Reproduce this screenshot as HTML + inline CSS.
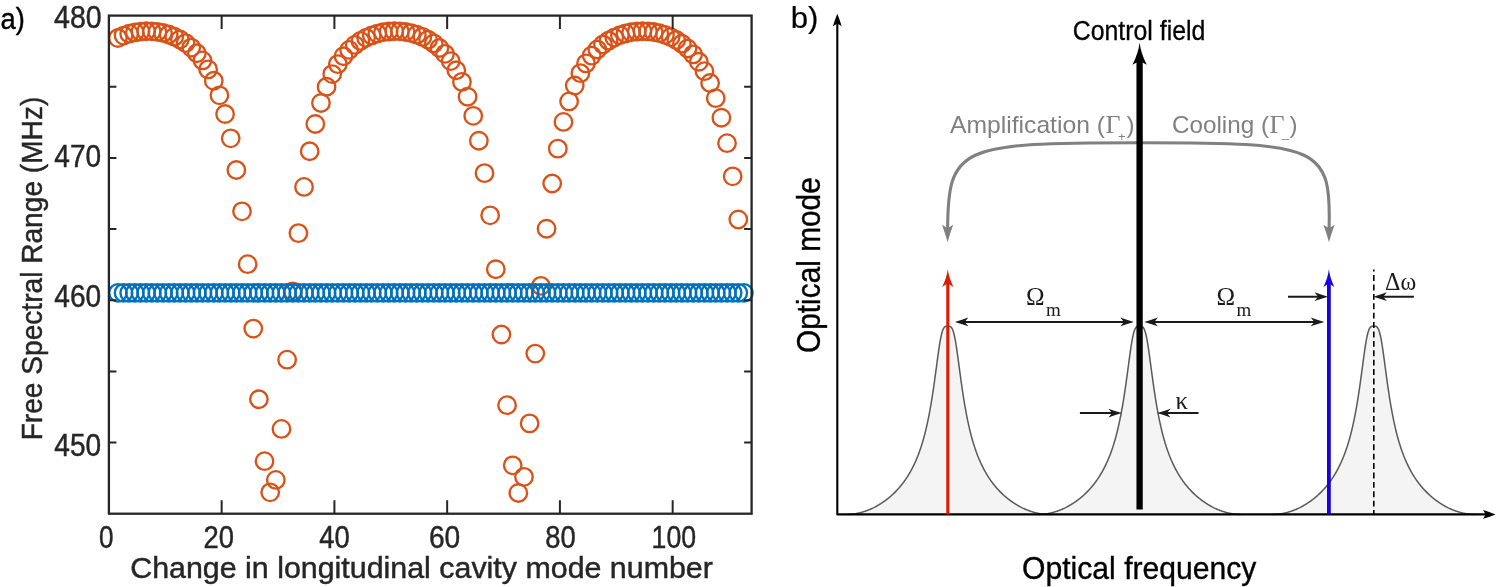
<!DOCTYPE html>
<html><head><meta charset="utf-8"><title>figure</title>
<style>html,body{margin:0;padding:0;background:#fff;}svg{display:block;will-change:transform;}text{font-family:"Liberation Sans",sans-serif;}.s{font-family:"Liberation Serif",serif;}</style>
</head><body>
<svg width="1496" height="587" viewBox="0 0 1496 587">
<rect x="0" y="0" width="1496" height="587" fill="#ffffff"/>
<g fill="none" stroke="#D95319" stroke-width="2.35">
<circle cx="117.90" cy="38.04" r="8.75"/>
<circle cx="123.54" cy="35.56" r="8.75"/>
<circle cx="129.18" cy="33.69" r="8.75"/>
<circle cx="134.82" cy="32.38" r="8.75"/>
<circle cx="140.46" cy="31.56" r="8.75"/>
<circle cx="146.10" cy="31.21" r="8.75"/>
<circle cx="151.74" cy="31.32" r="8.75"/>
<circle cx="157.38" cy="31.89" r="8.75"/>
<circle cx="163.02" cy="32.94" r="8.75"/>
<circle cx="168.66" cy="34.50" r="8.75"/>
<circle cx="174.30" cy="36.65" r="8.75"/>
<circle cx="179.94" cy="39.46" r="8.75"/>
<circle cx="185.58" cy="43.05" r="8.75"/>
<circle cx="191.22" cy="47.58" r="8.75"/>
<circle cx="196.86" cy="53.26" r="8.75"/>
<circle cx="202.50" cy="60.40" r="8.75"/>
<circle cx="208.14" cy="69.39" r="8.75"/>
<circle cx="213.78" cy="80.77" r="8.75"/>
<circle cx="219.42" cy="95.31" r="8.75"/>
<circle cx="225.06" cy="114.02" r="8.75"/>
<circle cx="230.70" cy="138.31" r="8.75"/>
<circle cx="236.34" cy="170.01" r="8.75"/>
<circle cx="241.98" cy="211.30" r="8.75"/>
<circle cx="247.62" cy="264.15" r="8.75"/>
<circle cx="253.26" cy="328.60" r="8.75"/>
<circle cx="258.90" cy="399.26" r="8.75"/>
<circle cx="264.54" cy="461.15" r="8.75"/>
<circle cx="270.18" cy="492.31" r="8.75"/>
<circle cx="275.82" cy="479.90" r="8.75"/>
<circle cx="281.46" cy="428.91" r="8.75"/>
<circle cx="287.10" cy="359.66" r="8.75"/>
<circle cx="292.74" cy="291.30" r="8.75"/>
<circle cx="298.38" cy="233.12" r="8.75"/>
<circle cx="304.02" cy="186.92" r="8.75"/>
<circle cx="309.66" cy="151.26" r="8.75"/>
<circle cx="315.30" cy="123.95" r="8.75"/>
<circle cx="320.94" cy="102.97" r="8.75"/>
<circle cx="326.58" cy="86.74" r="8.75"/>
<circle cx="332.22" cy="74.08" r="8.75"/>
<circle cx="337.86" cy="64.11" r="8.75"/>
<circle cx="343.50" cy="56.21" r="8.75"/>
<circle cx="349.14" cy="49.93" r="8.75"/>
<circle cx="354.78" cy="44.92" r="8.75"/>
<circle cx="360.42" cy="40.94" r="8.75"/>
<circle cx="366.06" cy="37.80" r="8.75"/>
<circle cx="371.70" cy="35.37" r="8.75"/>
<circle cx="377.34" cy="33.56" r="8.75"/>
<circle cx="382.98" cy="32.29" r="8.75"/>
<circle cx="388.62" cy="31.51" r="8.75"/>
<circle cx="394.26" cy="31.20" r="8.75"/>
<circle cx="399.90" cy="31.35" r="8.75"/>
<circle cx="405.54" cy="31.96" r="8.75"/>
<circle cx="411.18" cy="33.05" r="8.75"/>
<circle cx="416.82" cy="34.66" r="8.75"/>
<circle cx="422.46" cy="36.86" r="8.75"/>
<circle cx="428.10" cy="39.73" r="8.75"/>
<circle cx="433.74" cy="43.39" r="8.75"/>
<circle cx="439.38" cy="48.01" r="8.75"/>
<circle cx="445.02" cy="53.81" r="8.75"/>
<circle cx="450.66" cy="61.09" r="8.75"/>
<circle cx="456.30" cy="70.26" r="8.75"/>
<circle cx="461.94" cy="81.88" r="8.75"/>
<circle cx="467.58" cy="96.72" r="8.75"/>
<circle cx="473.22" cy="115.85" r="8.75"/>
<circle cx="478.86" cy="140.70" r="8.75"/>
<circle cx="484.50" cy="173.14" r="8.75"/>
<circle cx="490.14" cy="215.35" r="8.75"/>
<circle cx="495.78" cy="269.23" r="8.75"/>
<circle cx="501.42" cy="334.54" r="8.75"/>
<circle cx="507.06" cy="405.19" r="8.75"/>
<circle cx="512.70" cy="465.31" r="8.75"/>
<circle cx="518.34" cy="492.98" r="8.75"/>
<circle cx="523.98" cy="476.83" r="8.75"/>
<circle cx="529.62" cy="423.38" r="8.75"/>
<circle cx="535.26" cy="353.58" r="8.75"/>
<circle cx="540.90" cy="285.87" r="8.75"/>
<circle cx="546.54" cy="228.71" r="8.75"/>
<circle cx="552.18" cy="183.49" r="8.75"/>
<circle cx="557.82" cy="148.63" r="8.75"/>
<circle cx="563.46" cy="121.94" r="8.75"/>
<circle cx="569.10" cy="101.42" r="8.75"/>
<circle cx="574.74" cy="85.54" r="8.75"/>
<circle cx="580.38" cy="73.13" r="8.75"/>
<circle cx="586.02" cy="63.36" r="8.75"/>
<circle cx="591.66" cy="55.62" r="8.75"/>
<circle cx="597.30" cy="49.45" r="8.75"/>
<circle cx="602.94" cy="44.54" r="8.75"/>
<circle cx="608.58" cy="40.64" r="8.75"/>
<circle cx="614.22" cy="37.57" r="8.75"/>
<circle cx="619.86" cy="35.20" r="8.75"/>
<circle cx="625.50" cy="33.43" r="8.75"/>
<circle cx="631.14" cy="32.20" r="8.75"/>
<circle cx="636.78" cy="31.47" r="8.75"/>
<circle cx="642.42" cy="31.20" r="8.75"/>
<circle cx="648.06" cy="31.38" r="8.75"/>
<circle cx="653.70" cy="32.03" r="8.75"/>
<circle cx="659.34" cy="33.17" r="8.75"/>
<circle cx="664.98" cy="34.83" r="8.75"/>
<circle cx="670.62" cy="37.08" r="8.75"/>
<circle cx="676.26" cy="40.01" r="8.75"/>
<circle cx="681.90" cy="43.75" r="8.75"/>
<circle cx="687.54" cy="48.46" r="8.75"/>
<circle cx="693.18" cy="54.37" r="8.75"/>
<circle cx="698.82" cy="61.79" r="8.75"/>
<circle cx="704.46" cy="71.15" r="8.75"/>
<circle cx="710.10" cy="83.01" r="8.75"/>
<circle cx="715.74" cy="98.17" r="8.75"/>
<circle cx="721.38" cy="117.73" r="8.75"/>
<circle cx="727.02" cy="143.15" r="8.75"/>
<circle cx="732.66" cy="176.33" r="8.75"/>
<circle cx="738.30" cy="219.48" r="8.75"/>
</g>
<g fill="none" stroke="#0072BD" stroke-width="2.35">
<circle cx="117.90" cy="292.8" r="8.75"/>
<circle cx="123.54" cy="292.8" r="8.75"/>
<circle cx="129.18" cy="292.8" r="8.75"/>
<circle cx="134.82" cy="292.8" r="8.75"/>
<circle cx="140.46" cy="292.8" r="8.75"/>
<circle cx="146.10" cy="292.8" r="8.75"/>
<circle cx="151.74" cy="292.8" r="8.75"/>
<circle cx="157.38" cy="292.8" r="8.75"/>
<circle cx="163.02" cy="292.8" r="8.75"/>
<circle cx="168.66" cy="292.8" r="8.75"/>
<circle cx="174.30" cy="292.8" r="8.75"/>
<circle cx="179.94" cy="292.8" r="8.75"/>
<circle cx="185.58" cy="292.8" r="8.75"/>
<circle cx="191.22" cy="292.8" r="8.75"/>
<circle cx="196.86" cy="292.8" r="8.75"/>
<circle cx="202.50" cy="292.8" r="8.75"/>
<circle cx="208.14" cy="292.8" r="8.75"/>
<circle cx="213.78" cy="292.8" r="8.75"/>
<circle cx="219.42" cy="292.8" r="8.75"/>
<circle cx="225.06" cy="292.8" r="8.75"/>
<circle cx="230.70" cy="292.8" r="8.75"/>
<circle cx="236.34" cy="292.8" r="8.75"/>
<circle cx="241.98" cy="292.8" r="8.75"/>
<circle cx="247.62" cy="292.8" r="8.75"/>
<circle cx="253.26" cy="292.8" r="8.75"/>
<circle cx="258.90" cy="292.8" r="8.75"/>
<circle cx="264.54" cy="292.8" r="8.75"/>
<circle cx="270.18" cy="292.8" r="8.75"/>
<circle cx="275.82" cy="292.8" r="8.75"/>
<circle cx="281.46" cy="292.8" r="8.75"/>
<circle cx="287.10" cy="292.8" r="8.75"/>
<circle cx="292.74" cy="292.8" r="8.75"/>
<circle cx="298.38" cy="292.8" r="8.75"/>
<circle cx="304.02" cy="292.8" r="8.75"/>
<circle cx="309.66" cy="292.8" r="8.75"/>
<circle cx="315.30" cy="292.8" r="8.75"/>
<circle cx="320.94" cy="292.8" r="8.75"/>
<circle cx="326.58" cy="292.8" r="8.75"/>
<circle cx="332.22" cy="292.8" r="8.75"/>
<circle cx="337.86" cy="292.8" r="8.75"/>
<circle cx="343.50" cy="292.8" r="8.75"/>
<circle cx="349.14" cy="292.8" r="8.75"/>
<circle cx="354.78" cy="292.8" r="8.75"/>
<circle cx="360.42" cy="292.8" r="8.75"/>
<circle cx="366.06" cy="292.8" r="8.75"/>
<circle cx="371.70" cy="292.8" r="8.75"/>
<circle cx="377.34" cy="292.8" r="8.75"/>
<circle cx="382.98" cy="292.8" r="8.75"/>
<circle cx="388.62" cy="292.8" r="8.75"/>
<circle cx="394.26" cy="292.8" r="8.75"/>
<circle cx="399.90" cy="292.8" r="8.75"/>
<circle cx="405.54" cy="292.8" r="8.75"/>
<circle cx="411.18" cy="292.8" r="8.75"/>
<circle cx="416.82" cy="292.8" r="8.75"/>
<circle cx="422.46" cy="292.8" r="8.75"/>
<circle cx="428.10" cy="292.8" r="8.75"/>
<circle cx="433.74" cy="292.8" r="8.75"/>
<circle cx="439.38" cy="292.8" r="8.75"/>
<circle cx="445.02" cy="292.8" r="8.75"/>
<circle cx="450.66" cy="292.8" r="8.75"/>
<circle cx="456.30" cy="292.8" r="8.75"/>
<circle cx="461.94" cy="292.8" r="8.75"/>
<circle cx="467.58" cy="292.8" r="8.75"/>
<circle cx="473.22" cy="292.8" r="8.75"/>
<circle cx="478.86" cy="292.8" r="8.75"/>
<circle cx="484.50" cy="292.8" r="8.75"/>
<circle cx="490.14" cy="292.8" r="8.75"/>
<circle cx="495.78" cy="292.8" r="8.75"/>
<circle cx="501.42" cy="292.8" r="8.75"/>
<circle cx="507.06" cy="292.8" r="8.75"/>
<circle cx="512.70" cy="292.8" r="8.75"/>
<circle cx="518.34" cy="292.8" r="8.75"/>
<circle cx="523.98" cy="292.8" r="8.75"/>
<circle cx="529.62" cy="292.8" r="8.75"/>
<circle cx="535.26" cy="292.8" r="8.75"/>
<circle cx="540.90" cy="292.8" r="8.75"/>
<circle cx="546.54" cy="292.8" r="8.75"/>
<circle cx="552.18" cy="292.8" r="8.75"/>
<circle cx="557.82" cy="292.8" r="8.75"/>
<circle cx="563.46" cy="292.8" r="8.75"/>
<circle cx="569.10" cy="292.8" r="8.75"/>
<circle cx="574.74" cy="292.8" r="8.75"/>
<circle cx="580.38" cy="292.8" r="8.75"/>
<circle cx="586.02" cy="292.8" r="8.75"/>
<circle cx="591.66" cy="292.8" r="8.75"/>
<circle cx="597.30" cy="292.8" r="8.75"/>
<circle cx="602.94" cy="292.8" r="8.75"/>
<circle cx="608.58" cy="292.8" r="8.75"/>
<circle cx="614.22" cy="292.8" r="8.75"/>
<circle cx="619.86" cy="292.8" r="8.75"/>
<circle cx="625.50" cy="292.8" r="8.75"/>
<circle cx="631.14" cy="292.8" r="8.75"/>
<circle cx="636.78" cy="292.8" r="8.75"/>
<circle cx="642.42" cy="292.8" r="8.75"/>
<circle cx="648.06" cy="292.8" r="8.75"/>
<circle cx="653.70" cy="292.8" r="8.75"/>
<circle cx="659.34" cy="292.8" r="8.75"/>
<circle cx="664.98" cy="292.8" r="8.75"/>
<circle cx="670.62" cy="292.8" r="8.75"/>
<circle cx="676.26" cy="292.8" r="8.75"/>
<circle cx="681.90" cy="292.8" r="8.75"/>
<circle cx="687.54" cy="292.8" r="8.75"/>
<circle cx="693.18" cy="292.8" r="8.75"/>
<circle cx="698.82" cy="292.8" r="8.75"/>
<circle cx="704.46" cy="292.8" r="8.75"/>
<circle cx="710.10" cy="292.8" r="8.75"/>
<circle cx="715.74" cy="292.8" r="8.75"/>
<circle cx="721.38" cy="292.8" r="8.75"/>
<circle cx="727.02" cy="292.8" r="8.75"/>
<circle cx="732.66" cy="292.8" r="8.75"/>
<circle cx="738.30" cy="292.8" r="8.75"/>
<circle cx="743.94" cy="292.8" r="8.75"/>
</g>
<g fill="none" stroke="#262626" stroke-width="2.3">
<rect x="108.9" y="15.6" width="642.70" height="498.10"/>
<path d="M221.65,513.7v-13.5M221.65,15.6v13.5M334.41,513.7v-13.5M334.41,15.6v13.5M447.16,513.7v-13.5M447.16,15.6v13.5M559.92,513.7v-13.5M559.92,15.6v13.5M672.67,513.7v-13.5M672.67,15.6v13.5M108.9,86.76h7.5M751.6,86.76h-7.5M108.9,157.91h7.5M751.6,157.91h-7.5M108.9,229.07h7.5M751.6,229.07h-7.5M108.9,300.23h7.5M751.6,300.23h-7.5M108.9,371.39h7.5M751.6,371.39h-7.5M108.9,442.54h7.5M751.6,442.54h-7.5" stroke-width="2"/>
</g>
<g fill="#262626" stroke="#262626" stroke-width="0.45" font-size="29px">
<text x="54.0" y="27.8" font-size="30.6px" textLength="47.7" lengthAdjust="spacingAndGlyphs">480</text>
<text x="54.3" y="167.0" font-size="30.6px" textLength="46.8" lengthAdjust="spacingAndGlyphs">470</text>
<text x="54.3" y="306.5" font-size="30.6px" textLength="46.8" lengthAdjust="spacingAndGlyphs">460</text>
<text x="54.3" y="455.5" font-size="30.6px" textLength="46.8" lengthAdjust="spacingAndGlyphs">450</text>
<text x="98.9" y="548.0" font-size="30.6px" textLength="14.5" lengthAdjust="spacingAndGlyphs">0</text>
<text x="203.5" y="548.0" font-size="30.6px" textLength="30.4" lengthAdjust="spacingAndGlyphs">20</text>
<text x="319.3" y="548.0" font-size="30.6px" textLength="30.4" lengthAdjust="spacingAndGlyphs">40</text>
<text x="428.9" y="548.0" font-size="30.6px" textLength="31.3" lengthAdjust="spacingAndGlyphs">60</text>
<text x="545.2" y="548.0" font-size="30.6px" textLength="30.4" lengthAdjust="spacingAndGlyphs">80</text>
<text x="651.6" y="548.0" font-size="30.6px" textLength="44.5" lengthAdjust="spacingAndGlyphs">100</text>
<text x="130.2" y="578.4" textLength="582.7" lengthAdjust="spacingAndGlyphs">Change in longitudinal cavity mode number</text>
<text transform="translate(42,440.3) rotate(-90)" x="0" y="0" textLength="343.6" lengthAdjust="spacingAndGlyphs">Free Spectral Range (MHz)</text>
</g>
<text x="0.5" y="29.1" font-size="29px" fill="#000" stroke="#000" stroke-width="0.4" textLength="24.3" lengthAdjust="spacingAndGlyphs">a)</text>
<text x="790.7" y="28.1" font-size="30px" fill="#000" stroke="#000" stroke-width="0.2" textLength="27.7" lengthAdjust="spacingAndGlyphs">b)</text>
<path d="M846.80,514.40 L847.30,514.40 L847.80,514.39 L848.30,514.38 L848.80,514.36 L849.30,514.34 L849.80,514.31 L850.30,514.28 L850.80,514.24 L851.30,514.20 L851.80,514.16 L852.30,514.11 L852.80,514.05 L853.30,513.99 L853.80,513.93 L854.30,513.86 L854.80,513.78 L855.30,513.70 L855.80,513.62 L856.30,513.53 L856.80,513.44 L857.30,513.34 L857.80,513.24 L858.30,513.13 L858.80,513.02 L859.30,512.91 L859.80,512.79 L860.30,512.66 L860.80,512.53 L861.30,512.40 L861.80,512.26 L862.30,512.12 L862.80,511.97 L863.30,511.82 L863.80,511.66 L864.30,511.50 L864.80,511.34 L865.30,511.17 L865.80,511.00 L866.30,510.82 L866.80,510.63 L867.30,510.45 L867.80,510.26 L868.30,510.06 L868.80,509.86 L869.30,509.65 L869.80,509.44 L870.30,509.23 L870.80,509.01 L871.30,508.78 L871.80,508.56 L872.30,508.32 L872.80,508.09 L873.30,507.84 L873.80,507.60 L874.30,507.34 L874.80,507.09 L875.30,506.83 L875.80,506.56 L876.30,506.29 L876.80,506.02 L877.30,505.74 L877.80,505.45 L878.30,505.16 L878.80,504.86 L879.30,504.56 L879.80,504.26 L880.30,503.95 L880.80,503.63 L881.30,503.31 L881.80,502.99 L882.30,502.65 L882.80,502.32 L883.30,501.98 L883.80,501.63 L884.30,501.27 L884.80,500.91 L885.30,500.55 L885.80,500.18 L886.30,499.80 L886.80,499.42 L887.30,499.03 L887.80,498.64 L888.30,498.24 L888.80,497.83 L889.30,497.42 L889.80,497.00 L890.30,496.57 L890.80,496.13 L891.30,495.69 L891.80,495.25 L892.30,494.79 L892.80,494.33 L893.30,493.86 L893.80,493.38 L894.30,492.90 L894.80,492.40 L895.30,491.90 L895.80,491.39 L896.30,490.88 L896.80,490.35 L897.30,489.82 L897.80,489.27 L898.30,488.72 L898.80,488.15 L899.30,487.58 L899.80,487.00 L900.30,486.41 L900.80,485.80 L901.30,485.19 L901.80,484.56 L902.30,483.92 L902.80,483.28 L903.30,482.62 L903.80,481.94 L904.30,481.26 L904.80,480.56 L905.30,479.84 L905.80,479.12 L906.30,478.38 L906.80,477.62 L907.30,476.85 L907.80,476.06 L908.30,475.26 L908.80,474.44 L909.30,473.60 L909.80,472.75 L910.30,471.87 L910.80,470.98 L911.30,470.06 L911.80,469.13 L912.30,468.17 L912.80,467.19 L913.30,466.19 L913.80,465.17 L914.30,464.12 L914.80,463.04 L915.30,461.94 L915.80,460.80 L916.30,459.64 L916.80,458.45 L917.30,457.23 L917.80,455.97 L918.30,454.68 L918.80,453.36 L919.30,451.99 L919.80,450.59 L920.30,449.15 L920.80,447.66 L921.30,446.13 L921.80,444.55 L922.30,442.93 L922.80,441.25 L923.30,439.52 L923.80,437.74 L924.30,435.89 L924.80,433.99 L925.30,432.02 L925.80,429.99 L926.30,427.89 L926.80,425.71 L927.30,423.46 L927.80,421.13 L928.30,418.72 L928.80,416.23 L929.30,413.64 L929.80,410.97 L930.30,408.20 L930.80,405.34 L931.30,402.37 L931.80,399.31 L932.30,396.16 L932.80,392.90 L933.30,389.55 L933.80,386.10 L934.30,382.57 L934.80,378.97 L935.30,375.29 L935.80,371.57 L936.30,367.82 L936.80,364.06 L937.30,360.32 L937.80,356.63 L938.30,353.03 L938.80,349.55 L939.30,346.23 L939.80,343.11 L940.30,340.23 L940.80,337.61 L941.30,335.27 L941.80,333.23 L942.30,331.50 L942.80,330.07 L943.30,328.91 L943.80,328.02 L944.30,327.35 L944.80,326.87 L945.30,326.56 L945.80,326.36 L946.30,326.26 L946.80,326.21 L947.30,326.20 L947.80,326.20 L948.30,326.20 L948.80,326.21 L949.30,326.26 L949.80,326.36 L950.30,326.56 L950.80,326.87 L951.30,327.35 L951.80,328.02 L952.30,328.91 L952.80,330.07 L953.30,331.50 L953.80,333.23 L954.30,335.27 L954.80,337.61 L955.30,340.23 L955.80,343.11 L956.30,346.23 L956.80,349.55 L957.30,353.03 L957.80,356.63 L958.30,360.32 L958.80,364.06 L959.30,367.82 L959.80,371.57 L960.30,375.29 L960.80,378.97 L961.30,382.57 L961.80,386.10 L962.30,389.55 L962.80,392.90 L963.30,396.16 L963.80,399.31 L964.30,402.37 L964.80,405.34 L965.30,408.20 L965.80,410.97 L966.30,413.64 L966.80,416.23 L967.30,418.72 L967.80,421.13 L968.30,423.46 L968.80,425.71 L969.30,427.89 L969.80,429.99 L970.30,432.02 L970.80,433.99 L971.30,435.89 L971.80,437.74 L972.30,439.52 L972.80,441.25 L973.30,442.93 L973.80,444.55 L974.30,446.13 L974.80,447.66 L975.30,449.15 L975.80,450.59 L976.30,451.99 L976.80,453.36 L977.30,454.68 L977.80,455.97 L978.30,457.23 L978.80,458.45 L979.30,459.64 L979.80,460.80 L980.30,461.94 L980.80,463.04 L981.30,464.12 L981.80,465.17 L982.30,466.19 L982.80,467.19 L983.30,468.17 L983.80,469.13 L984.30,470.06 L984.80,470.98 L985.30,471.87 L985.80,472.75 L986.30,473.60 L986.80,474.44 L987.30,475.26 L987.80,476.06 L988.30,476.85 L988.80,477.62 L989.30,478.38 L989.80,479.12 L990.30,479.84 L990.80,480.56 L991.30,481.26 L991.80,481.94 L992.30,482.62 L992.80,483.28 L993.30,483.92 L993.80,484.56 L994.30,485.19 L994.80,485.80 L995.30,486.41 L995.80,487.00 L996.30,487.58 L996.80,488.15 L997.30,488.72 L997.80,489.27 L998.30,489.82 L998.80,490.35 L999.30,490.88 L999.80,491.39 L1000.30,491.90 L1000.80,492.40 L1001.30,492.90 L1001.80,493.38 L1002.30,493.86 L1002.80,494.33 L1003.30,494.79 L1003.80,495.25 L1004.30,495.69 L1004.80,496.13 L1005.30,496.57 L1005.80,497.00 L1006.30,497.42 L1006.80,497.83 L1007.30,498.24 L1007.80,498.64 L1008.30,499.03 L1008.80,499.42 L1009.30,499.80 L1009.80,500.18 L1010.30,500.55 L1010.80,500.91 L1011.30,501.27 L1011.80,501.63 L1012.30,501.98 L1012.80,502.32 L1013.30,502.65 L1013.80,502.99 L1014.30,503.31 L1014.80,503.63 L1015.30,503.95 L1015.80,504.26 L1016.30,504.56 L1016.80,504.86 L1017.30,505.16 L1017.80,505.45 L1018.30,505.74 L1018.80,506.02 L1019.30,506.29 L1019.80,506.56 L1020.30,506.83 L1020.80,507.09 L1021.30,507.34 L1021.80,507.60 L1022.30,507.84 L1022.80,508.09 L1023.30,508.32 L1023.80,508.56 L1024.30,508.78 L1024.80,509.01 L1025.30,509.23 L1025.80,509.44 L1026.30,509.65 L1026.80,509.86 L1027.30,510.06 L1027.80,510.26 L1028.30,510.45 L1028.80,510.63 L1029.30,510.82 L1029.80,511.00 L1030.30,511.17 L1030.80,511.34 L1031.30,511.50 L1031.80,511.66 L1032.30,511.82 L1032.80,511.97 L1033.30,512.12 L1033.80,512.26 L1034.30,512.40 L1034.80,512.53 L1035.30,512.66 L1035.80,512.79 L1036.30,512.91 L1036.80,513.02 L1037.30,513.13 L1037.80,513.24 L1038.30,513.34 L1038.80,513.44 L1039.30,513.53 L1039.80,513.62 L1040.30,513.70 L1040.80,513.78 L1041.30,513.86 L1041.80,513.93 L1042.30,513.99 L1042.80,514.05 L1043.30,514.11 L1043.80,514.16 L1044.30,514.20 L1044.80,514.24 L1045.30,514.28 L1045.80,514.31 L1046.30,514.34 L1046.80,514.36 L1047.30,514.38 L1047.80,514.39 L1048.30,514.40 L1048.80,514.40" fill="#F4F4F4" stroke="#5a5a5a" stroke-width="1.5" stroke-linejoin="round"/>
<path d="M1038.60,514.40 L1039.10,514.40 L1039.60,514.39 L1040.10,514.38 L1040.60,514.36 L1041.10,514.34 L1041.60,514.31 L1042.10,514.28 L1042.60,514.24 L1043.10,514.20 L1043.60,514.16 L1044.10,514.11 L1044.60,514.05 L1045.10,513.99 L1045.60,513.93 L1046.10,513.86 L1046.60,513.78 L1047.10,513.70 L1047.60,513.62 L1048.10,513.53 L1048.60,513.44 L1049.10,513.34 L1049.60,513.24 L1050.10,513.13 L1050.60,513.02 L1051.10,512.91 L1051.60,512.79 L1052.10,512.66 L1052.60,512.53 L1053.10,512.40 L1053.60,512.26 L1054.10,512.12 L1054.60,511.97 L1055.10,511.82 L1055.60,511.66 L1056.10,511.50 L1056.60,511.34 L1057.10,511.17 L1057.60,511.00 L1058.10,510.82 L1058.60,510.63 L1059.10,510.45 L1059.60,510.26 L1060.10,510.06 L1060.60,509.86 L1061.10,509.65 L1061.60,509.44 L1062.10,509.23 L1062.60,509.01 L1063.10,508.78 L1063.60,508.56 L1064.10,508.32 L1064.60,508.09 L1065.10,507.84 L1065.60,507.60 L1066.10,507.34 L1066.60,507.09 L1067.10,506.83 L1067.60,506.56 L1068.10,506.29 L1068.60,506.02 L1069.10,505.74 L1069.60,505.45 L1070.10,505.16 L1070.60,504.86 L1071.10,504.56 L1071.60,504.26 L1072.10,503.95 L1072.60,503.63 L1073.10,503.31 L1073.60,502.99 L1074.10,502.65 L1074.60,502.32 L1075.10,501.98 L1075.60,501.63 L1076.10,501.27 L1076.60,500.91 L1077.10,500.55 L1077.60,500.18 L1078.10,499.80 L1078.60,499.42 L1079.10,499.03 L1079.60,498.64 L1080.10,498.24 L1080.60,497.83 L1081.10,497.42 L1081.60,497.00 L1082.10,496.57 L1082.60,496.13 L1083.10,495.69 L1083.60,495.25 L1084.10,494.79 L1084.60,494.33 L1085.10,493.86 L1085.60,493.38 L1086.10,492.90 L1086.60,492.40 L1087.10,491.90 L1087.60,491.39 L1088.10,490.88 L1088.60,490.35 L1089.10,489.82 L1089.60,489.27 L1090.10,488.72 L1090.60,488.15 L1091.10,487.58 L1091.60,487.00 L1092.10,486.41 L1092.60,485.80 L1093.10,485.19 L1093.60,484.56 L1094.10,483.92 L1094.60,483.28 L1095.10,482.62 L1095.60,481.94 L1096.10,481.26 L1096.60,480.56 L1097.10,479.84 L1097.60,479.12 L1098.10,478.38 L1098.60,477.62 L1099.10,476.85 L1099.60,476.06 L1100.10,475.26 L1100.60,474.44 L1101.10,473.60 L1101.60,472.75 L1102.10,471.87 L1102.60,470.98 L1103.10,470.06 L1103.60,469.13 L1104.10,468.17 L1104.60,467.19 L1105.10,466.19 L1105.60,465.17 L1106.10,464.12 L1106.60,463.04 L1107.10,461.94 L1107.60,460.80 L1108.10,459.64 L1108.60,458.45 L1109.10,457.23 L1109.60,455.97 L1110.10,454.68 L1110.60,453.36 L1111.10,451.99 L1111.60,450.59 L1112.10,449.15 L1112.60,447.66 L1113.10,446.13 L1113.60,444.55 L1114.10,442.93 L1114.60,441.25 L1115.10,439.52 L1115.60,437.74 L1116.10,435.89 L1116.60,433.99 L1117.10,432.02 L1117.60,429.99 L1118.10,427.89 L1118.60,425.71 L1119.10,423.46 L1119.60,421.13 L1120.10,418.72 L1120.60,416.23 L1121.10,413.64 L1121.60,410.97 L1122.10,408.20 L1122.60,405.34 L1123.10,402.37 L1123.60,399.31 L1124.10,396.16 L1124.60,392.90 L1125.10,389.55 L1125.60,386.10 L1126.10,382.57 L1126.60,378.97 L1127.10,375.29 L1127.60,371.57 L1128.10,367.82 L1128.60,364.06 L1129.10,360.32 L1129.60,356.63 L1130.10,353.03 L1130.60,349.55 L1131.10,346.23 L1131.60,343.11 L1132.10,340.23 L1132.60,337.61 L1133.10,335.27 L1133.60,333.23 L1134.10,331.50 L1134.60,330.07 L1135.10,328.91 L1135.60,328.02 L1136.10,327.35 L1136.60,326.87 L1137.10,326.56 L1137.60,326.36 L1138.10,326.26 L1138.60,326.21 L1139.10,326.20 L1139.60,326.20 L1140.10,326.20 L1140.60,326.21 L1141.10,326.26 L1141.60,326.36 L1142.10,326.56 L1142.60,326.87 L1143.10,327.35 L1143.60,328.02 L1144.10,328.91 L1144.60,330.07 L1145.10,331.50 L1145.60,333.23 L1146.10,335.27 L1146.60,337.61 L1147.10,340.23 L1147.60,343.11 L1148.10,346.23 L1148.60,349.55 L1149.10,353.03 L1149.60,356.63 L1150.10,360.32 L1150.60,364.06 L1151.10,367.82 L1151.60,371.57 L1152.10,375.29 L1152.60,378.97 L1153.10,382.57 L1153.60,386.10 L1154.10,389.55 L1154.60,392.90 L1155.10,396.16 L1155.60,399.31 L1156.10,402.37 L1156.60,405.34 L1157.10,408.20 L1157.60,410.97 L1158.10,413.64 L1158.60,416.23 L1159.10,418.72 L1159.60,421.13 L1160.10,423.46 L1160.60,425.71 L1161.10,427.89 L1161.60,429.99 L1162.10,432.02 L1162.60,433.99 L1163.10,435.89 L1163.60,437.74 L1164.10,439.52 L1164.60,441.25 L1165.10,442.93 L1165.60,444.55 L1166.10,446.13 L1166.60,447.66 L1167.10,449.15 L1167.60,450.59 L1168.10,451.99 L1168.60,453.36 L1169.10,454.68 L1169.60,455.97 L1170.10,457.23 L1170.60,458.45 L1171.10,459.64 L1171.60,460.80 L1172.10,461.94 L1172.60,463.04 L1173.10,464.12 L1173.60,465.17 L1174.10,466.19 L1174.60,467.19 L1175.10,468.17 L1175.60,469.13 L1176.10,470.06 L1176.60,470.98 L1177.10,471.87 L1177.60,472.75 L1178.10,473.60 L1178.60,474.44 L1179.10,475.26 L1179.60,476.06 L1180.10,476.85 L1180.60,477.62 L1181.10,478.38 L1181.60,479.12 L1182.10,479.84 L1182.60,480.56 L1183.10,481.26 L1183.60,481.94 L1184.10,482.62 L1184.60,483.28 L1185.10,483.92 L1185.60,484.56 L1186.10,485.19 L1186.60,485.80 L1187.10,486.41 L1187.60,487.00 L1188.10,487.58 L1188.60,488.15 L1189.10,488.72 L1189.60,489.27 L1190.10,489.82 L1190.60,490.35 L1191.10,490.88 L1191.60,491.39 L1192.10,491.90 L1192.60,492.40 L1193.10,492.90 L1193.60,493.38 L1194.10,493.86 L1194.60,494.33 L1195.10,494.79 L1195.60,495.25 L1196.10,495.69 L1196.60,496.13 L1197.10,496.57 L1197.60,497.00 L1198.10,497.42 L1198.60,497.83 L1199.10,498.24 L1199.60,498.64 L1200.10,499.03 L1200.60,499.42 L1201.10,499.80 L1201.60,500.18 L1202.10,500.55 L1202.60,500.91 L1203.10,501.27 L1203.60,501.63 L1204.10,501.98 L1204.60,502.32 L1205.10,502.65 L1205.60,502.99 L1206.10,503.31 L1206.60,503.63 L1207.10,503.95 L1207.60,504.26 L1208.10,504.56 L1208.60,504.86 L1209.10,505.16 L1209.60,505.45 L1210.10,505.74 L1210.60,506.02 L1211.10,506.29 L1211.60,506.56 L1212.10,506.83 L1212.60,507.09 L1213.10,507.34 L1213.60,507.60 L1214.10,507.84 L1214.60,508.09 L1215.10,508.32 L1215.60,508.56 L1216.10,508.78 L1216.60,509.01 L1217.10,509.23 L1217.60,509.44 L1218.10,509.65 L1218.60,509.86 L1219.10,510.06 L1219.60,510.26 L1220.10,510.45 L1220.60,510.63 L1221.10,510.82 L1221.60,511.00 L1222.10,511.17 L1222.60,511.34 L1223.10,511.50 L1223.60,511.66 L1224.10,511.82 L1224.60,511.97 L1225.10,512.12 L1225.60,512.26 L1226.10,512.40 L1226.60,512.53 L1227.10,512.66 L1227.60,512.79 L1228.10,512.91 L1228.60,513.02 L1229.10,513.13 L1229.60,513.24 L1230.10,513.34 L1230.60,513.44 L1231.10,513.53 L1231.60,513.62 L1232.10,513.70 L1232.60,513.78 L1233.10,513.86 L1233.60,513.93 L1234.10,513.99 L1234.60,514.05 L1235.10,514.11 L1235.60,514.16 L1236.10,514.20 L1236.60,514.24 L1237.10,514.28 L1237.60,514.31 L1238.10,514.34 L1238.60,514.36 L1239.10,514.38 L1239.60,514.39 L1240.10,514.40 L1240.60,514.40" fill="#F4F4F4" stroke="#5a5a5a" stroke-width="1.5" stroke-linejoin="round"/>
<path d="M1272.80,514.40 L1273.30,514.40 L1273.80,514.39 L1274.30,514.38 L1274.80,514.36 L1275.30,514.34 L1275.80,514.31 L1276.30,514.28 L1276.80,514.24 L1277.30,514.20 L1277.80,514.16 L1278.30,514.11 L1278.80,514.05 L1279.30,513.99 L1279.80,513.93 L1280.30,513.86 L1280.80,513.78 L1281.30,513.70 L1281.80,513.62 L1282.30,513.53 L1282.80,513.44 L1283.30,513.34 L1283.80,513.24 L1284.30,513.13 L1284.80,513.02 L1285.30,512.91 L1285.80,512.79 L1286.30,512.66 L1286.80,512.53 L1287.30,512.40 L1287.80,512.26 L1288.30,512.12 L1288.80,511.97 L1289.30,511.82 L1289.80,511.66 L1290.30,511.50 L1290.80,511.34 L1291.30,511.17 L1291.80,511.00 L1292.30,510.82 L1292.80,510.63 L1293.30,510.45 L1293.80,510.26 L1294.30,510.06 L1294.80,509.86 L1295.30,509.65 L1295.80,509.44 L1296.30,509.23 L1296.80,509.01 L1297.30,508.78 L1297.80,508.56 L1298.30,508.32 L1298.80,508.09 L1299.30,507.84 L1299.80,507.60 L1300.30,507.34 L1300.80,507.09 L1301.30,506.83 L1301.80,506.56 L1302.30,506.29 L1302.80,506.02 L1303.30,505.74 L1303.80,505.45 L1304.30,505.16 L1304.80,504.86 L1305.30,504.56 L1305.80,504.26 L1306.30,503.95 L1306.80,503.63 L1307.30,503.31 L1307.80,502.99 L1308.30,502.65 L1308.80,502.32 L1309.30,501.98 L1309.80,501.63 L1310.30,501.27 L1310.80,500.91 L1311.30,500.55 L1311.80,500.18 L1312.30,499.80 L1312.80,499.42 L1313.30,499.03 L1313.80,498.64 L1314.30,498.24 L1314.80,497.83 L1315.30,497.42 L1315.80,497.00 L1316.30,496.57 L1316.80,496.13 L1317.30,495.69 L1317.80,495.25 L1318.30,494.79 L1318.80,494.33 L1319.30,493.86 L1319.80,493.38 L1320.30,492.90 L1320.80,492.40 L1321.30,491.90 L1321.80,491.39 L1322.30,490.88 L1322.80,490.35 L1323.30,489.82 L1323.80,489.27 L1324.30,488.72 L1324.80,488.15 L1325.30,487.58 L1325.80,487.00 L1326.30,486.41 L1326.80,485.80 L1327.30,485.19 L1327.80,484.56 L1328.30,483.92 L1328.80,483.28 L1329.30,482.62 L1329.80,481.94 L1330.30,481.26 L1330.80,480.56 L1331.30,479.84 L1331.80,479.12 L1332.30,478.38 L1332.80,477.62 L1333.30,476.85 L1333.80,476.06 L1334.30,475.26 L1334.80,474.44 L1335.30,473.60 L1335.80,472.75 L1336.30,471.87 L1336.80,470.98 L1337.30,470.06 L1337.80,469.13 L1338.30,468.17 L1338.80,467.19 L1339.30,466.19 L1339.80,465.17 L1340.30,464.12 L1340.80,463.04 L1341.30,461.94 L1341.80,460.80 L1342.30,459.64 L1342.80,458.45 L1343.30,457.23 L1343.80,455.97 L1344.30,454.68 L1344.80,453.36 L1345.30,451.99 L1345.80,450.59 L1346.30,449.15 L1346.80,447.66 L1347.30,446.13 L1347.80,444.55 L1348.30,442.93 L1348.80,441.25 L1349.30,439.52 L1349.80,437.74 L1350.30,435.89 L1350.80,433.99 L1351.30,432.02 L1351.80,429.99 L1352.30,427.89 L1352.80,425.71 L1353.30,423.46 L1353.80,421.13 L1354.30,418.72 L1354.80,416.23 L1355.30,413.64 L1355.80,410.97 L1356.30,408.20 L1356.80,405.34 L1357.30,402.37 L1357.80,399.31 L1358.30,396.16 L1358.80,392.90 L1359.30,389.55 L1359.80,386.10 L1360.30,382.57 L1360.80,378.97 L1361.30,375.29 L1361.80,371.57 L1362.30,367.82 L1362.80,364.06 L1363.30,360.32 L1363.80,356.63 L1364.30,353.03 L1364.80,349.55 L1365.30,346.23 L1365.80,343.11 L1366.30,340.23 L1366.80,337.61 L1367.30,335.27 L1367.80,333.23 L1368.30,331.50 L1368.80,330.07 L1369.30,328.91 L1369.80,328.02 L1370.30,327.35 L1370.80,326.87 L1371.30,326.56 L1371.80,326.36 L1372.30,326.26 L1372.80,326.21 L1373.30,326.20 L1373.80,326.20 L1374.30,326.20 L1374.80,326.21 L1375.30,326.26 L1375.80,326.36 L1376.30,326.56 L1376.80,326.87 L1377.30,327.35 L1377.80,328.02 L1378.30,328.91 L1378.80,330.07 L1379.30,331.50 L1379.80,333.23 L1380.30,335.27 L1380.80,337.61 L1381.30,340.23 L1381.80,343.11 L1382.30,346.23 L1382.80,349.55 L1383.30,353.03 L1383.80,356.63 L1384.30,360.32 L1384.80,364.06 L1385.30,367.82 L1385.80,371.57 L1386.30,375.29 L1386.80,378.97 L1387.30,382.57 L1387.80,386.10 L1388.30,389.55 L1388.80,392.90 L1389.30,396.16 L1389.80,399.31 L1390.30,402.37 L1390.80,405.34 L1391.30,408.20 L1391.80,410.97 L1392.30,413.64 L1392.80,416.23 L1393.30,418.72 L1393.80,421.13 L1394.30,423.46 L1394.80,425.71 L1395.30,427.89 L1395.80,429.99 L1396.30,432.02 L1396.80,433.99 L1397.30,435.89 L1397.80,437.74 L1398.30,439.52 L1398.80,441.25 L1399.30,442.93 L1399.80,444.55 L1400.30,446.13 L1400.80,447.66 L1401.30,449.15 L1401.80,450.59 L1402.30,451.99 L1402.80,453.36 L1403.30,454.68 L1403.80,455.97 L1404.30,457.23 L1404.80,458.45 L1405.30,459.64 L1405.80,460.80 L1406.30,461.94 L1406.80,463.04 L1407.30,464.12 L1407.80,465.17 L1408.30,466.19 L1408.80,467.19 L1409.30,468.17 L1409.80,469.13 L1410.30,470.06 L1410.80,470.98 L1411.30,471.87 L1411.80,472.75 L1412.30,473.60 L1412.80,474.44 L1413.30,475.26 L1413.80,476.06 L1414.30,476.85 L1414.80,477.62 L1415.30,478.38 L1415.80,479.12 L1416.30,479.84 L1416.80,480.56 L1417.30,481.26 L1417.80,481.94 L1418.30,482.62 L1418.80,483.28 L1419.30,483.92 L1419.80,484.56 L1420.30,485.19 L1420.80,485.80 L1421.30,486.41 L1421.80,487.00 L1422.30,487.58 L1422.80,488.15 L1423.30,488.72 L1423.80,489.27 L1424.30,489.82 L1424.80,490.35 L1425.30,490.88 L1425.80,491.39 L1426.30,491.90 L1426.80,492.40 L1427.30,492.90 L1427.80,493.38 L1428.30,493.86 L1428.80,494.33 L1429.30,494.79 L1429.80,495.25 L1430.30,495.69 L1430.80,496.13 L1431.30,496.57 L1431.80,497.00 L1432.30,497.42 L1432.80,497.83 L1433.30,498.24 L1433.80,498.64 L1434.30,499.03 L1434.80,499.42 L1435.30,499.80 L1435.80,500.18 L1436.30,500.55 L1436.80,500.91 L1437.30,501.27 L1437.80,501.63 L1438.30,501.98 L1438.80,502.32 L1439.30,502.65 L1439.80,502.99 L1440.30,503.31 L1440.80,503.63 L1441.30,503.95 L1441.80,504.26 L1442.30,504.56 L1442.80,504.86 L1443.30,505.16 L1443.80,505.45 L1444.30,505.74 L1444.80,506.02 L1445.30,506.29 L1445.80,506.56 L1446.30,506.83 L1446.80,507.09 L1447.30,507.34 L1447.80,507.60 L1448.30,507.84 L1448.80,508.09 L1449.30,508.32 L1449.80,508.56 L1450.30,508.78 L1450.80,509.01 L1451.30,509.23 L1451.80,509.44 L1452.30,509.65 L1452.80,509.86 L1453.30,510.06 L1453.80,510.26 L1454.30,510.45 L1454.80,510.63 L1455.30,510.82 L1455.80,511.00 L1456.30,511.17 L1456.80,511.34 L1457.30,511.50 L1457.80,511.66 L1458.30,511.82 L1458.80,511.97 L1459.30,512.12 L1459.80,512.26 L1460.30,512.40 L1460.80,512.53 L1461.30,512.66 L1461.80,512.79 L1462.30,512.91 L1462.80,513.02 L1463.30,513.13 L1463.80,513.24 L1464.30,513.34 L1464.80,513.44 L1465.30,513.53 L1465.80,513.62 L1466.30,513.70 L1466.80,513.78 L1467.30,513.86 L1467.80,513.93 L1468.30,513.99 L1468.80,514.05 L1469.30,514.11 L1469.80,514.16 L1470.30,514.20 L1470.80,514.24 L1471.30,514.28 L1471.80,514.31 L1472.30,514.34 L1472.80,514.36 L1473.30,514.38 L1473.80,514.39 L1474.30,514.40 L1474.80,514.40" fill="#F4F4F4" stroke="#5a5a5a" stroke-width="1.5" stroke-linejoin="round"/>
<g stroke="#000" stroke-width="2.1" fill="none" stroke-linejoin="round">
<path d="M837.3,20 V514.4 H1488"/>
</g>
<path d="M837.30,13.80 Q839.72,19.68 841.70,26.30 L837.30,23.55 L832.90,26.30 Q834.88,19.68 837.30,13.80 Z" fill="#000"/>
<path d="M1495.50,514.40 Q1489.62,516.82 1483.00,518.80 L1485.75,514.40 L1483.00,510.00 Q1489.62,511.98 1495.50,514.40 Z" fill="#000"/>
<path d="M947.8,514.4 V282" stroke="#DE1A05" stroke-width="3.1" fill="none"/>
<path d="M947.80,269.10 Q948.65,277.47 953.45,286.90 L947.80,283.34 L942.15,286.90 Q946.95,277.47 947.80,269.10 Z" fill="#DE1A05"/>
<path d="M1328.9,514.4 V282" stroke="#1800E0" stroke-width="3.8" fill="none"/>
<path d="M1328.90,269.10 Q1329.71,277.47 1334.30,286.90 L1328.90,283.34 L1323.50,286.90 Q1328.09,277.47 1328.90,269.10 Z" fill="#1800E0"/>
<path d="M1373.8,269.6 V514.4" stroke="#000" stroke-width="1.6" stroke-dasharray="5.9 3.5" stroke-dashoffset="3.9" fill="none"/>
<path d="M1140,142.7 C958.8,142.7 947.6,145.8 947.6,232" stroke="#808080" stroke-width="3.1" fill="none"/>
<path d="M1140,142.7 C1321.2,142.7 1331.8,145.8 1329.0,232" stroke="#808080" stroke-width="3.1" fill="none"/>
<path d="M947.60,242.20 Q945.36,234.02 942.00,224.80 L947.60,228.28 L953.20,224.80 Q949.84,234.02 947.60,242.20 Z" fill="#808080"/>
<path d="M1329.00,242.20 Q1326.76,234.02 1323.40,224.80 L1329.00,228.28 L1334.60,224.80 Q1331.24,234.02 1329.00,242.20 Z" fill="#808080"/>
<path d="M1139.6,509.4 V60" stroke="#000" stroke-width="6.3" fill="none"/>
<path d="M1139.60,42.60 Q1140.67,52.99 1146.75,64.70 L1139.60,60.94 L1132.45,64.70 Q1138.53,52.99 1139.60,42.60 Z" fill="#000"/>
<path d="M962,321.9 H1127" stroke="#1a1a1a" stroke-width="2.0" fill="none"/>
<path d="M954.80,321.90 Q961.19,320.14 968.40,317.50 L964.73,321.90 L968.40,326.30 Q961.19,323.66 954.80,321.90 Z" fill="#1a1a1a"/>
<path d="M1133.90,321.90 Q1127.51,323.66 1120.30,326.30 L1123.97,321.90 L1120.30,317.50 Q1127.51,320.14 1133.90,321.90 Z" fill="#1a1a1a"/>
<path d="M1152,321.9 H1316" stroke="#1a1a1a" stroke-width="2.0" fill="none"/>
<path d="M1144.30,321.90 Q1150.69,320.14 1157.90,317.50 L1154.23,321.90 L1157.90,326.30 Q1150.69,323.66 1144.30,321.90 Z" fill="#1a1a1a"/>
<path d="M1324.30,321.90 Q1317.91,323.66 1310.70,326.30 L1314.37,321.90 L1310.70,317.50 Q1317.91,320.14 1324.30,321.90 Z" fill="#1a1a1a"/>
<path d="M1079.9,413.1 H1115" stroke="#1a1a1a" stroke-width="2.0" fill="none"/>
<path d="M1122.00,413.10 Q1115.61,414.86 1108.40,417.50 L1112.07,413.10 L1108.40,408.70 Q1115.61,411.34 1122.00,413.10 Z" fill="#1a1a1a"/>
<path d="M1164,413.1 H1198.5" stroke="#1a1a1a" stroke-width="2.0" fill="none"/>
<path d="M1157.00,413.10 Q1163.39,411.34 1170.60,408.70 L1166.93,413.10 L1170.60,417.50 Q1163.39,414.86 1157.00,413.10 Z" fill="#1a1a1a"/>
<path d="M1288,296.7 H1321" stroke="#1a1a1a" stroke-width="2.0" fill="none"/>
<path d="M1328.10,296.70 Q1321.71,298.46 1314.50,301.10 L1318.17,296.70 L1314.50,292.30 Q1321.71,294.94 1328.10,296.70 Z" fill="#1a1a1a"/>
<path d="M1380,296.7 H1413.9" stroke="#1a1a1a" stroke-width="2.0" fill="none"/>
<path d="M1373.30,296.70 Q1379.69,294.94 1386.90,292.30 L1383.23,296.70 L1386.90,301.10 Q1379.69,298.46 1373.30,296.70 Z" fill="#1a1a1a"/>
<text x="1072.7" y="40.4" font-size="27px" fill="#000" stroke="#000" stroke-width="0.3" textLength="132.7" lengthAdjust="spacingAndGlyphs">Control field</text>
<text x="950" y="133.3" font-size="24px" fill="#808080" textLength="155" lengthAdjust="spacingAndGlyphs">Amplification (</text>
<text class="s" x="1105.5" y="133.3" font-size="26px" fill="#808080">Γ</text>
<text x="1118" y="141" font-size="13px" fill="#808080">+</text>
<text x="1126.5" y="133.3" font-size="24px" fill="#808080">)</text>
<text x="1172" y="133.3" font-size="24px" fill="#808080" textLength="97" lengthAdjust="spacingAndGlyphs">Cooling (</text>
<text class="s" x="1269.5" y="133.3" font-size="26px" fill="#808080">Γ</text>
<text x="1282" y="137" font-size="13px" fill="#808080">_</text>
<text x="1289.5" y="133.3" font-size="24px" fill="#808080">)</text>
<g class="s" fill="#1a1a1a">
<text class="s" x="1026" y="305.3" font-size="25px">Ω</text>
<text class="s" x="1046" y="316.3" font-size="19px">m</text>
<text class="s" x="1216.4" y="305.4" font-size="25px">Ω</text>
<text class="s" x="1236.5" y="316.4" font-size="19px">m</text>
<text class="s" x="1175.5" y="408.5" font-size="25px">κ</text>
<text class="s" x="1385.1" y="289.5" font-size="24.5px" textLength="31.1" lengthAdjust="spacingAndGlyphs">Δω</text>
</g>
<text x="1022.1" y="578.7" font-size="30.5px" fill="#000" stroke="#000" stroke-width="0.35" textLength="234.3" lengthAdjust="spacingAndGlyphs">Optical frequency</text>
<text transform="translate(819.7,353) rotate(-90)" x="0" y="0" font-size="33.5px" fill="#000" stroke="#000" stroke-width="0.35" textLength="175.8" lengthAdjust="spacingAndGlyphs">Optical mode</text>
</svg></body></html>
